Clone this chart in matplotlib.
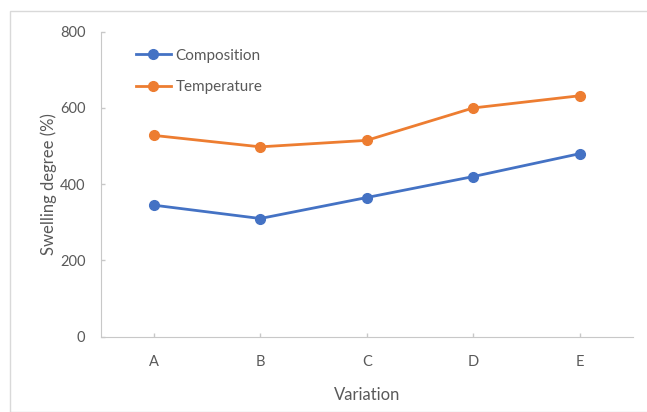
import matplotlib.pyplot as plt
from matplotlib.patches import Rectangle
import numpy as np

# swelling degree per variation
variations = ['A', 'B', 'C', 'D', 'E']
composition = [345, 310, 365, 420, 480]
temperature = [528, 498, 515, 600, 632]
y_ticks = [0, 200, 400, 600, 800]

text_grey = '#595959'
axis_grey = '#c8c8c8'

plt.rcParams['font.family'] = ['Lato', 'DejaVu Sans']

fig = plt.figure(figsize=(6.47, 4.12), dpi=100)
ax = fig.add_axes([0.1556, 0.1828, 0.8224, 0.7402])

x = np.arange(len(variations))
ax.plot(x, composition, color='#4472C4', lw=2.0, marker='o', markersize=7, label='Composition')
ax.plot(x, temperature, color='#ED7D31', lw=2.0, marker='o', markersize=7, label='Temperature')

ax.set_xlim(-0.5, len(variations) - 0.5)
ax.set_ylim(0, 800)
ax.set_xticks(x)
ax.set_xticklabels(variations)
ax.set_yticks(y_ticks)

ax.spines['right'].set_visible(False)
ax.spines['top'].set_visible(False)
ax.spines['left'].set_color(axis_grey)
ax.spines['bottom'].set_color(axis_grey)
ax.tick_params(axis='both', colors=axis_grey, labelcolor=text_grey, labelsize=10.5,
               direction='in', length=3, width=1)
ax.tick_params(axis='x', pad=13)
ax.tick_params(axis='y', pad=11)

ax.set_xlabel('Variation', fontsize=12, color=text_grey, labelpad=13)
ax.set_ylabel('Swelling degree (%)', fontsize=12, color=text_grey, labelpad=2)

ax.legend(loc='upper left', bbox_to_anchor=(0.04, 0.99), frameon=False, fontsize=11,
          labelcolor=text_grey, handlelength=2.3, handletextpad=0.3, labelspacing=1.15)

# chart area border
fig.patches.append(Rectangle((10 / 647, 0), 1.0, 1 - 11 / 412, transform=fig.transFigure,
                             fill=False, edgecolor='#d9d9d9', lw=1.0))

fig.savefig('out.png', dpi=100)
